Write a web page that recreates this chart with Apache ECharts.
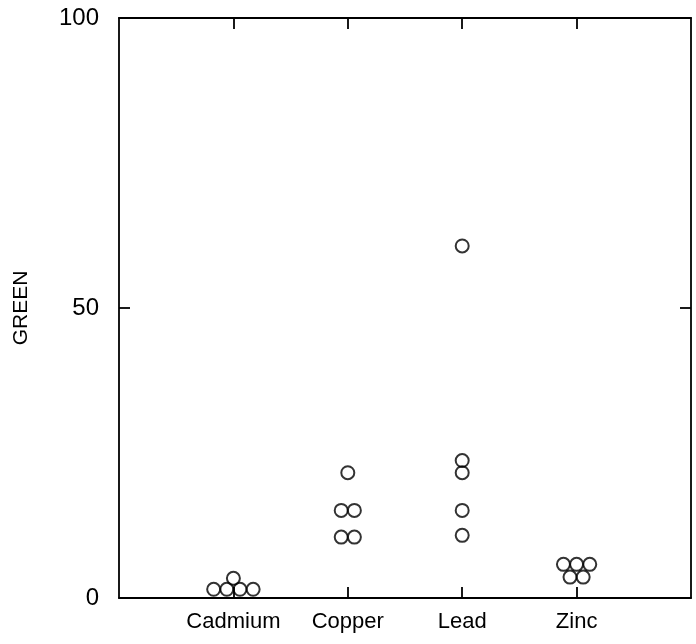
<!DOCTYPE html>
<html>
<head>
<meta charset="utf-8">
<script src="https://cdn.jsdelivr.net/npm/echarts@6/dist/echarts.min.js"></script>
<style>
  html, body { margin: 0; padding: 0; background: #fff; }
  #chart { width: 696px; height: 644px; }
</style>
</head>
<body>
<div id="chart"></div>
<script>
// Metal categories and their GREEN measurements
const categories = ['Cadmium', 'Copper', 'Lead', 'Zinc'];
const cadmium = [1.5, 1.5, 1.5, 1.5, 3.4];
const copper = [21.6, 15.1, 15.1, 10.5, 10.5];
const lead = [60.7, 23.7, 21.6, 15.1, 10.8];
const zinc = [5.8, 5.8, 5.8, 3.6, 3.6];
const yTicks = [0, 50, 100];

const groups = [cadmium, copper, lead, zinc];

// Tied values are spread sideways so every dot stays visible
const dotStep = 0.115;
const points = [];
groups.forEach(function (vals, ci) {
  const counts = {};
  vals.forEach(function (v) { counts[v] = (counts[v] || 0) + 1; });
  const seen = {};
  vals.forEach(function (v) {
    const n = counts[v];
    const k = seen[v] || 0;
    seen[v] = k + 1;
    points.push([ci + 1 + (k - (n - 1) / 2) * dotStep, v]);
  });
});

const font = 'Liberation Sans, Arial, Helvetica, sans-serif';
const lineStyle = { color: '#000', width: 1.8 };
const tickStyle = { show: true, inside: true, length: 11, lineStyle: { color: '#000', width: 1.8 } };
const catTicks = categories.map(function (_, i) { return i + 1; });

const chart = echarts.init(document.getElementById('chart'));
chart.setOption({
  animation: false,
  backgroundColor: '#fff',
  grid: { left: 119, right: 5, top: 18, bottom: 46 },
  xAxis: [
    {
      type: 'value', min: 0, max: 5, interval: 1,
      axisLine: { show: true, onZero: false, lineStyle: lineStyle },
      axisTick: Object.assign({ customValues: catTicks }, tickStyle),
      splitLine: { show: false },
      axisLabel: {
        customValues: catTicks,
        margin: 13,
        color: '#000', fontFamily: font, fontSize: 22,
        formatter: function (v) { return categories[Math.round(v) - 1] || ''; }
      }
    },
    {
      type: 'value', min: 0, max: 5, interval: 1, position: 'top',
      axisLine: { show: true, onZero: false, lineStyle: lineStyle },
      axisTick: Object.assign({ customValues: catTicks }, tickStyle),
      splitLine: { show: false },
      axisLabel: { show: false }
    }
  ],
  yAxis: [
    {
      type: 'value', min: 0, max: 100, interval: 50,
      name: 'GREEN', nameLocation: 'middle', nameGap: 87, nameRotate: 90,
      nameTextStyle: { color: '#000', fontFamily: font, fontSize: 21 },
      axisLine: { show: true, onZero: false, lineStyle: lineStyle },
      axisTick: Object.assign({ customValues: yTicks }, tickStyle),
      splitLine: { show: false },
      axisLabel: {
        customValues: yTicks,
        margin: 20, color: '#000', fontFamily: font, fontSize: 24
      }
    },
    {
      type: 'value', min: 0, max: 100, interval: 50, position: 'right',
      axisLine: { show: true, onZero: false, lineStyle: lineStyle },
      axisTick: Object.assign({ customValues: yTicks }, tickStyle),
      splitLine: { show: false },
      axisLabel: { show: false }
    }
  ],
  series: [{
    type: 'scatter',
    data: points,
    symbol: 'circle',
    symbolSize: 13,
    itemStyle: { color: 'rgba(0,0,0,0)', borderColor: '#000', borderWidth: 2 }
  }]
});
</script>
</body>
</html>
